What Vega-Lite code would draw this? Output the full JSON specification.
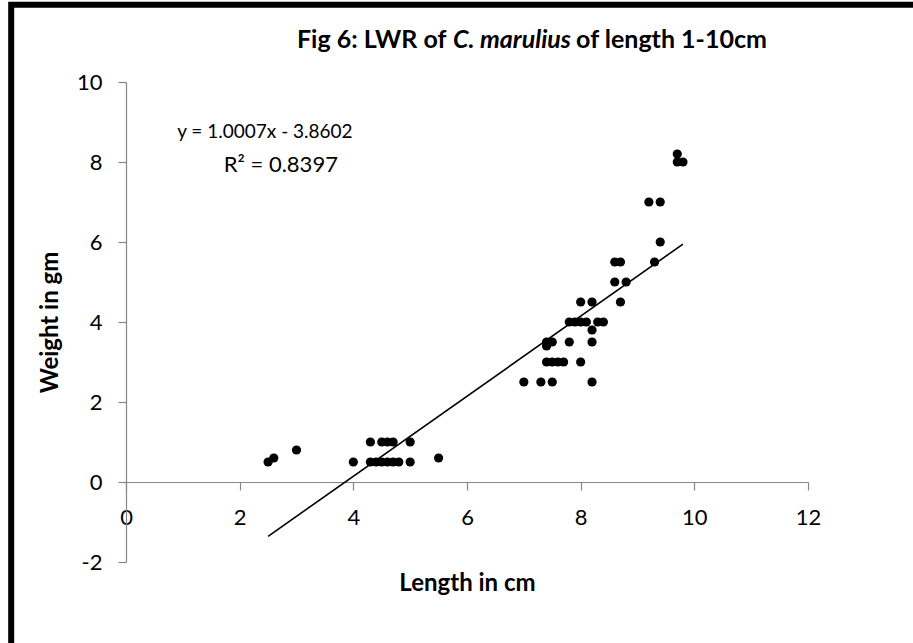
{
  "$schema": "https://vega.github.io/schema/vega-lite/v6.json",
  "width": 682,
  "height": 480,
  "autosize": {"type": "none"},
  "padding": {"left": 126, "top": 82, "right": 105, "bottom": 81},
  "background": "white",
  "config": {
    "view": {"stroke": null},
    "font": "Lato",
    "axis": {"grid": false, "domainColor": "#868686", "tickColor": "#868686", "labelColor": "#000000", "titleColor": "#000000", "labelFont": "Lato", "titleFont": "Lato", "labelFontSize": 22, "titleFontSize": 24, "titleFontWeight": "bold", "tickSize": 8, "domainWidth": 1.2, "tickWidth": 1.2}
  },
  "datasets": {
    "fish": [
      {"length": 2.5, "weight": 0.5}, {"length": 2.6, "weight": 0.6}, {"length": 3.0, "weight": 0.8}, {"length": 4.0, "weight": 0.5},
      {"length": 4.3, "weight": 1.0}, {"length": 4.5, "weight": 1.0}, {"length": 4.6, "weight": 1.0}, {"length": 4.7, "weight": 1.0}, {"length": 5.0, "weight": 1.0},
      {"length": 4.3, "weight": 0.5}, {"length": 4.4, "weight": 0.5}, {"length": 4.5, "weight": 0.5}, {"length": 4.6, "weight": 0.5}, {"length": 4.7, "weight": 0.5}, {"length": 4.8, "weight": 0.5}, {"length": 5.0, "weight": 0.5},
      {"length": 5.5, "weight": 0.6},
      {"length": 7.0, "weight": 2.5}, {"length": 7.3, "weight": 2.5}, {"length": 7.5, "weight": 2.5}, {"length": 8.2, "weight": 2.5},
      {"length": 7.4, "weight": 3.0}, {"length": 7.5, "weight": 3.0}, {"length": 7.6, "weight": 3.0}, {"length": 7.7, "weight": 3.0}, {"length": 8.0, "weight": 3.0},
      {"length": 7.4, "weight": 3.4}, {"length": 7.4, "weight": 3.5}, {"length": 7.5, "weight": 3.5}, {"length": 7.8, "weight": 3.5}, {"length": 8.2, "weight": 3.5},
      {"length": 8.2, "weight": 3.8},
      {"length": 7.8, "weight": 4.0}, {"length": 7.9, "weight": 4.0}, {"length": 8.0, "weight": 4.0}, {"length": 8.1, "weight": 4.0}, {"length": 8.3, "weight": 4.0}, {"length": 8.4, "weight": 4.0},
      {"length": 8.0, "weight": 4.5}, {"length": 8.2, "weight": 4.5}, {"length": 8.7, "weight": 4.5},
      {"length": 8.6, "weight": 5.0}, {"length": 8.8, "weight": 5.0},
      {"length": 8.6, "weight": 5.5}, {"length": 8.7, "weight": 5.5}, {"length": 9.3, "weight": 5.5},
      {"length": 9.4, "weight": 6.0},
      {"length": 9.2, "weight": 7.0}, {"length": 9.4, "weight": 7.0},
      {"length": 9.7, "weight": 8.2}, {"length": 9.7, "weight": 8.0}, {"length": 9.8, "weight": 8.0}
    ],
    "trend": [
      {"length": 2.5, "weight": -1.358},
      {"length": 9.8, "weight": 5.947}
    ],
    "labels": [
      {"lx": 0.9, "ly": 8.59, "label": "y = 1.0007x - 3.8602", "fs": 19},
      {"lx": 1.72, "ly": 7.74, "label": "R² = 0.8397", "fs": 22}
    ],
    "titleparts": [
      {"tx": 5.64, "ty": 11.04, "part": "Fig 6: LWR of", "piece": "a"},
      {"tx": 5.754, "ty": 11.04, "part": "C. marulius", "piece": "b"},
      {"tx": 7.92, "ty": 11.04, "part": "of length 1-10cm", "piece": "c"}
    ]
  },
  "layer": [
    {
      "data": {"name": "fish"},
      "mark": {"type": "point", "filled": true, "color": "#000000", "opacity": 1, "size": 85},
      "encoding": {
        "x": {"field": "length", "type": "quantitative", "title": "Length in cm", "scale": {"domain": [0, 12], "nice": false},
          "axis": {"orient": "bottom", "offset": -80, "values": [0, 2, 4, 6, 8, 10, 12], "labelExpr": "'' + datum.value", "labelPadding": 17, "titleY": 108, "titleBaseline": "alphabetic", "labelFlush": false, "labelOverlap": false}},
        "y": {"field": "weight", "type": "quantitative", "title": "Weight in gm", "scale": {"domain": [-2, 10], "nice": false},
          "axis": {"values": [-2, 0, 2, 4, 6, 8, 10], "labelExpr": "'' + datum.value", "labelPadding": 16, "titleX": -69, "titleBaseline": "alphabetic", "labelFlush": false, "labelOverlap": false}}
      }
    },
    {
      "data": {"name": "trend"},
      "mark": {"type": "line", "color": "#000000", "strokeWidth": 1.6},
      "encoding": {
        "x": {"field": "length", "type": "quantitative", "title": "Length in cm"},
        "y": {"field": "weight", "type": "quantitative", "title": "Weight in gm"}
      }
    },
    {
      "data": {"name": "labels"},
      "mark": {"type": "text", "align": "left", "baseline": "alphabetic", "font": "Lato", "color": "#000000"},
      "encoding": {
        "x": {"field": "lx", "type": "quantitative", "title": "Length in cm"},
        "y": {"field": "ly", "type": "quantitative", "title": "Weight in gm"},
        "text": {"field": "label"},
        "size": {"field": "fs", "type": "quantitative", "scale": null}
      }
    },
    {
      "data": {"name": "titleparts"},
      "transform": [{"filter": "datum.piece === 'a'"}],
      "mark": {"type": "text", "align": "right", "baseline": "middle", "fontSize": 25, "fontWeight": "bold", "font": "Lato", "color": "#000000", "clip": false},
      "encoding": {
        "x": {"field": "tx", "type": "quantitative", "title": "Length in cm"},
        "y": {"field": "ty", "type": "quantitative", "title": "Weight in gm"},
        "text": {"field": "part"}
      }
    },
    {
      "data": {"name": "titleparts"},
      "transform": [{"filter": "datum.piece === 'b'"}],
      "mark": {"type": "text", "align": "left", "baseline": "middle", "fontSize": 25, "fontWeight": "bold", "fontStyle": "italic", "font": "Lato", "color": "#000000", "clip": false},
      "encoding": {
        "x": {"field": "tx", "type": "quantitative", "title": "Length in cm"},
        "y": {"field": "ty", "type": "quantitative", "title": "Weight in gm"},
        "text": {"field": "part"}
      }
    },
    {
      "data": {"name": "titleparts"},
      "transform": [{"filter": "datum.piece === 'c'"}],
      "mark": {"type": "text", "align": "left", "baseline": "middle", "fontSize": 25, "fontWeight": "bold", "font": "Lato", "color": "#000000", "clip": false},
      "encoding": {
        "x": {"field": "tx", "type": "quantitative", "title": "Length in cm"},
        "y": {"field": "ty", "type": "quantitative", "title": "Weight in gm"},
        "text": {"field": "part"}
      }
    },
    {
      "data": {"values": [{}]},
      "mark": {"type": "rect", "fill": null, "stroke": "#000000", "strokeWidth": 6, "clip": false},
      "encoding": {
        "x": {"datum": -2.02, "type": "quantitative", "title": "Length in cm"},
        "x2": {"datum": 14},
        "y": {"datum": 11.93, "type": "quantitative", "title": "Weight in gm"},
        "y2": {"datum": -4.3}
      }
    }
  ]
}
